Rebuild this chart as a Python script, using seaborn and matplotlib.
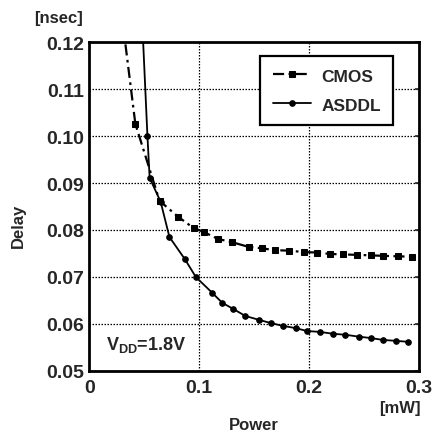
import numpy as np
import pandas as pd
import seaborn as sns
import matplotlib.pyplot as plt

# values
cmos_power = [0.033, 0.042, 0.064, 0.081, 0.095, 0.104, 0.117, 0.130, 0.145, 0.157,
              0.169, 0.182, 0.195, 0.207, 0.219, 0.231, 0.244, 0.256, 0.267, 0.281, 0.294]
cmos_delay = [0.1195, 0.1026, 0.0862, 0.0828, 0.0804, 0.0796, 0.0781, 0.0774, 0.0764, 0.0761,
              0.0757, 0.0756, 0.0753, 0.0752, 0.0749, 0.0748, 0.0747, 0.0746, 0.0745, 0.0744, 0.0743]

asddl_power = [0.049, 0.053, 0.055, 0.065, 0.073, 0.087, 0.097, 0.112, 0.121, 0.131, 0.142,
               0.154, 0.165, 0.176, 0.188, 0.198, 0.210, 0.222, 0.233, 0.245, 0.256, 0.267,
               0.279, 0.290]
asddl_delay = [0.1205, 0.1000, 0.0911, 0.0860, 0.0785, 0.0738, 0.0700, 0.0666, 0.0645, 0.0632,
               0.0617, 0.0609, 0.0602, 0.0596, 0.0591, 0.0585, 0.0583, 0.0579, 0.0577, 0.0573,
               0.0570, 0.0566, 0.0564, 0.0562]

x_ticks = [0, 0.1, 0.2, 0.3]
x_labels = ["0", "0.1", "0.2", "0.3"]
y_ticks = [0.05, 0.06, 0.07, 0.08, 0.09, 0.10, 0.11, 0.12]
y_labels = ["0.05", "0.06", "0.07", "0.08", "0.09", "0.10", "0.11", "0.12"]

sns.set_style("white")
plt.rcParams["font.family"] = ["Liberation Sans Narrow", "Liberation Sans", "DejaVu Sans"]
plt.rcParams["font.weight"] = "bold"
plt.rcParams["mathtext.fontset"] = "custom"
plt.rcParams["mathtext.bf"] = "Liberation Sans:bold"
plt.rcParams["mathtext.rm"] = "Liberation Sans:bold"

df_cmos = pd.DataFrame({"Power": cmos_power, "Delay": cmos_delay})
df_asddl = pd.DataFrame({"Power": asddl_power, "Delay": asddl_delay})

fig = plt.figure(figsize=(4.37, 4.35), dpi=100)
ax = fig.add_axes([0.204, 0.145, 0.755, 0.756])

sns.lineplot(data=df_cmos, x="Power", y="Delay", ax=ax, color="black", lw=1.6,
             linestyle=(0, (5, 2, 1.2, 2)), marker="s", markersize=4.8, mec="black",
             markevery=list(range(1, len(cmos_power))), label="CMOS", estimator=None, sort=False)
sns.lineplot(data=df_asddl, x="Power", y="Delay", ax=ax, color="black", lw=1.3,
             marker="o", markersize=4.0, mec="black",
             markevery=list(range(1, len(asddl_power))), label="ASDDL", estimator=None, sort=False)

ax.set_xlim(0, 0.3)
ax.set_ylim(0.05, 0.12)
ax.set_xticks(x_ticks)
ax.set_xticklabels(x_labels)
ax.set_yticks(y_ticks)
ax.set_yticklabels(y_labels)
ax.tick_params(axis="both", labelsize=14, direction="in", length=3, width=1.2,
               right=True, top=False)
ax.tick_params(axis="x", pad=6)
ax.grid(True, color="black", linestyle=(0, (1.2, 1.2)), lw=0.9)
for s in ax.spines.values():
    s.set_linewidth(2)
    s.set_color("black")

ax.set_xlabel("")
ax.set_ylabel("")
fig.text(0.58, 0.022, "Power", fontsize=12, fontweight="bold", ha="center", va="center")
fig.text(0.915, 0.062, "[mW]", fontsize=12, fontweight="bold", ha="center", va="center")
fig.text(0.042, 0.48, "Delay", fontsize=12, fontweight="bold", rotation=90,
         ha="center", va="center")
fig.text(0.135, 0.958, "[nsec]", fontsize=12, fontweight="bold", ha="center", va="center")
ax.text(0.015, 0.0557, r"V$_{\mathbf{DD}}$=1.8V", fontsize=13, fontweight="bold",
        ha="left", va="center")

leg = ax.legend(loc="upper right", bbox_to_anchor=(0.921, 0.957), borderaxespad=0,
                fontsize=12.5, frameon=True, fancybox=False, edgecolor="black",
                framealpha=1, handlelength=2.2, handletextpad=0.6, borderpad=0.7,
                labelspacing=0.8)
leg.get_frame().set_linewidth(1.6)

fig.savefig("out.png", dpi=100)
